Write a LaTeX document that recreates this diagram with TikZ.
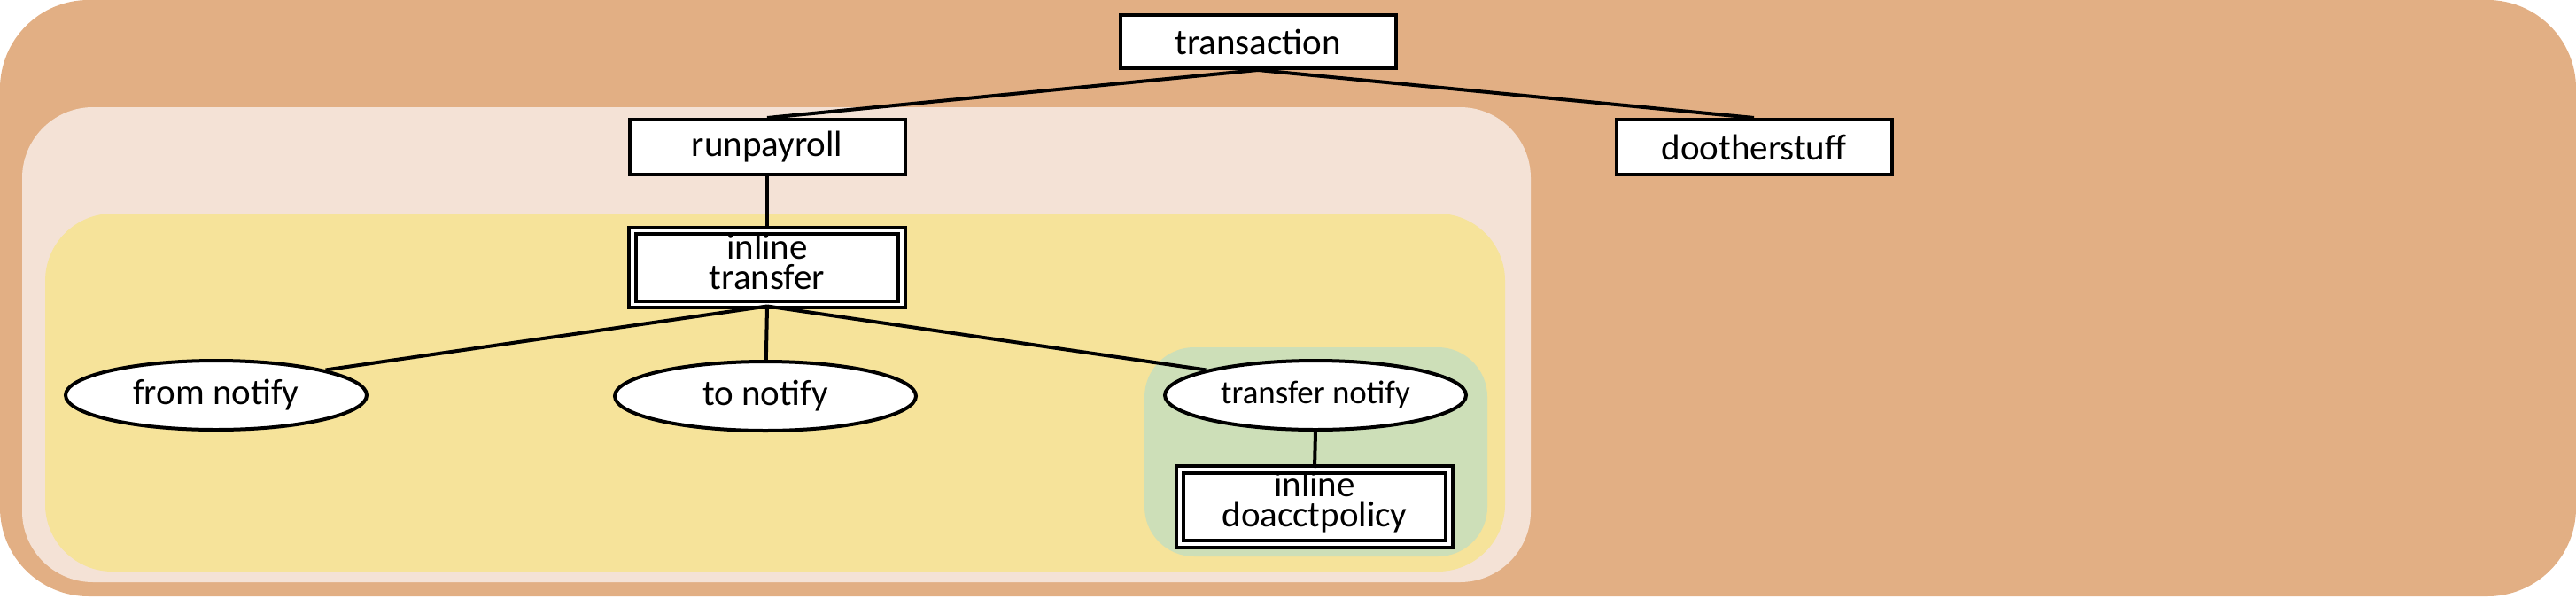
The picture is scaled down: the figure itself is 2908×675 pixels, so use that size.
\documentclass[tikz,border=0pt]{standalone}
\usepackage{fontspec}
\setmainfont{Carlito}
\usetikzlibrary{shapes.geometric}
\definecolor{outerc}{RGB}{226,175,132}
\definecolor{pinkc}{RGB}{244,226,214}
\definecolor{yellowc}{RGB}{246,227,154}
\definecolor{greenc}{RGB}{205,223,184}
\tikzset{
  boxnode/.style={draw, line width=1pt, fill=white, rectangle, inner sep=0pt,
    minimum width=77.75pt, minimum height=15pt,
    font=\fontsize{10.25pt}{8.5pt}\selectfont, align=center},
  dblnode/.style={draw, double=white, double distance=0.8pt, line width=1pt, fill=white, rectangle,
    inner sep=0pt, minimum width=76pt, minimum height=20.75pt,
    font=\fontsize{10.25pt}{8.5pt}\selectfont, align=center},
  ellnode/.style={draw, ellipse, line width=1pt, fill=white, inner sep=0pt,
    minimum width=85pt, minimum height=19.5pt, font=\fontsize{10.25pt}{12pt}\selectfont},
  link/.style={line width=1pt}
}
\begin{document}
\begin{tikzpicture}[x=0.25pt,y=-0.25pt]
\useasboundingbox (0,0) rectangle (2908,675);
% regions
\fill[outerc, rounded corners=25pt] (0,0) rectangle (2908,673);
\fill[pinkc, rounded corners=20pt] (25,121) rectangle (1728,657);
\fill[yellowc, rounded corners=19pt] (51,241) rectangle (1699,645);
\fill[greenc, rounded corners=14pt] (1292,392) rectangle (1679,628);
% nodes
\node[boxnode] (transaction) at (1420,47) {transaction};
\node[boxnode, minimum height=15.5pt] (runpayroll) at (866,166) {runpayroll};
\node[boxnode, minimum height=15.5pt] (dootherstuff) at (1980,166) {dootherstuff};
\node[dblnode, text depth=3.6pt] (transfer) at (866,302) {inline\\transfer};
\node[ellnode] (fromnotify) at (244,446) {from notify};
\node[ellnode] (tonotify) at (864,447) {to notify};
\node[ellnode, font=\fontsize{9.25pt}{11pt}\selectfont] (transfernotify) at (1485,446) {transfer notify};
\node[dblnode, minimum height=21pt, text depth=4.6pt] (doacct) at (1484,572) {inline\\doacctpolicy};
% connectors
\draw[link] (transaction.south) -- (runpayroll.north);
\draw[link] (transaction.south) -- (dootherstuff.north);
\draw[link] (runpayroll.south) -- (transfer.north);
\draw[link] (transfer.south) -- (fromnotify.13);
\draw[link] (transfer.south) -- (tonotify);
\draw[link] (transfer.south) -- (transfernotify.167);
\draw[link] (transfernotify.south) -- (doacct.north);
\end{tikzpicture}
\end{document}
